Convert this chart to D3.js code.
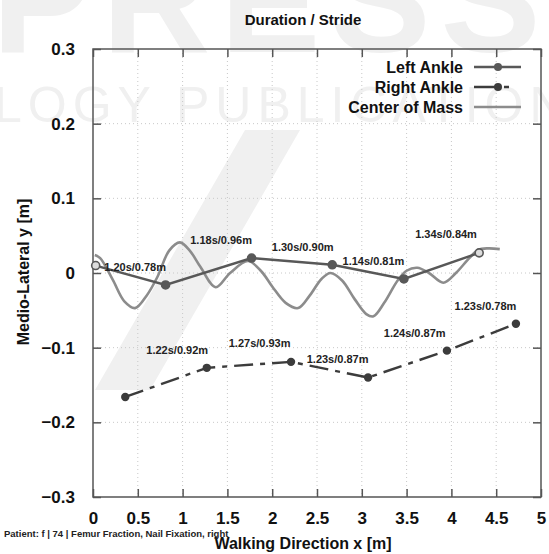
<!DOCTYPE html>
<meta charset="utf-8">
<style>
body { margin: 0; background: white; }
svg { font-family: "Liberation Sans", Arial, sans-serif; font-weight: bold; }
.tick text { font-size: 17px; font-weight: bold; fill: #111; }
.grid line { stroke: #c8c8c8; stroke-dasharray: 1,3; }
.lbl { font-size: 11px; fill: #222; text-anchor: middle; }
.leg { font-size: 16px; fill: #111; text-anchor: end; }
</style>
<svg></svg>
<script src="https://d3js.org/d3.v7.min.js"></script>
<script>

var width = 549,
    height = 554

// data (x = walking direction, y = medio-lateral)
var leftX = [0.03, 0.81, 1.77, 2.67, 3.47, 4.31]
var leftY = [0.010, -0.016, 0.020, 0.011, -0.008, 0.027]

var rightX = [0.36, 1.27, 2.21, 3.07, 3.95, 4.72]
var rightY = [-0.166, -0.127, -0.119, -0.140, -0.104, -0.068]

var comX = [0.02, 0.08, 0.22, 0.35, 0.47, 0.60, 0.72, 0.85, 0.97, 1.08, 1.20, 1.37, 1.53, 1.73, 1.88,
            2.00, 2.15, 2.29, 2.42, 2.55, 2.65, 2.78, 2.92, 3.05, 3.13, 3.25, 3.40, 3.50, 3.62, 3.75,
            3.91, 4.05, 4.20, 4.30, 4.41, 4.54]
var comY = [0.024, 0.020, -0.009, -0.038, -0.047, -0.030, -0.005, 0.030, 0.041, 0.030, 0.008, -0.019, 0.000, 0.016, 0.002,
            -0.018, -0.040, -0.047, -0.030, -0.008, 0.000, -0.010, -0.035, -0.055, -0.058, -0.040, -0.010, 0.003, 0.007, 0.000,
            -0.013, 0.000, 0.020, 0.031, 0.033, 0.032]

var leftLabels = ["1.20s/0.78m", "1.18s/0.96m", "1.30s/0.90m", "1.14s/0.81m", "1.34s/0.84m"]
var leftLabelX = [0.47, 1.43, 2.34, 3.13, 3.94]
var leftLabelY = [0.008, 0.044, 0.035, 0.016, 0.052]

var rightLabels = ["1.22s/0.92m", "1.27s/0.93m", "1.23s/0.87m", "1.24s/0.87m", "1.23s/0.78m"]
var rightLabelX = [0.94, 1.86, 2.73, 3.59, 4.38]
var rightLabelY = [-0.103, -0.094, -0.116, -0.080, -0.044]

var xTicks = [0, 0.5, 1, 1.5, 2, 2.5, 3, 3.5, 4, 4.5, 5]
var yTicks = [-0.3, -0.2, -0.1, 0, 0.1, 0.2, 0.3]

var legendNames = ["Left Ankle", "Right Ankle", "Center of Mass"]

var margin = {left: 93, right: 8, top: 49, bottom: 57}

var svg = d3.select("svg").attr("width", width).attr("height", height)

// faint publisher watermark in the background
var wm = svg.append("g").attr("fill", "#f0f0f0")
wm.append("text").attr("x", -8).attr("y", 52).style("font-size", "150px").style("letter-spacing", "10px").text("PRESS")
wm.append("text").attr("x", -6).attr("y", 122).style("font-size", "50px").style("font-weight", "normal")
    .style("letter-spacing", "6px").text("LOGY PUBLICATIONS")
wm.append("path").attr("d", "M245,130 L300,130 L150,390 L95,390 Z")

var x = d3.scaleLinear().domain([0, 5]).range([margin.left, width - margin.right])
var y = d3.scaleLinear().domain([-0.3, 0.3]).range([height - margin.bottom, margin.top])

var g = svg.append("g")

// grid
g.append("g").attr("class", "grid")
    .selectAll("line").data(xTicks.slice(1, -1)).enter().append("line")
    .attr("x1", function(d) { return x(d) }).attr("x2", function(d) { return x(d) })
    .attr("y1", y(0.3)).attr("y2", y(-0.3))
g.append("g").attr("class", "grid")
    .selectAll("line").data(yTicks.slice(1, -1)).enter().append("line")
    .attr("x1", x(0)).attr("x2", x(5))
    .attr("y1", function(d) { return y(d) }).attr("y2", function(d) { return y(d) })

var fmtY = function(d) { return d === 0 ? "0" : d3.format(".1f")(d) }

// axes with inward ticks
var xAxis = g.append("g").attr("transform", "translate(0," + y(-0.3) + ")")
    .call(d3.axisBottom(x).tickValues(xTicks).tickSize(-8).tickPadding(18).tickFormat(d3.format("")))
var xTop = g.append("g").attr("transform", "translate(0," + y(0.3) + ")")
    .call(d3.axisTop(x).tickValues(xTicks).tickSize(-8).tickFormat(""))
var yAxis = g.append("g").attr("transform", "translate(" + x(0) + ",0)")
    .call(d3.axisLeft(y).tickValues(yTicks).tickSize(-8).tickPadding(18).tickFormat(fmtY))
var yRight = g.append("g").attr("transform", "translate(" + x(5) + ",0)")
    .call(d3.axisRight(y).tickValues(yTicks).tickSize(-8).tickFormat(""))
g.selectAll(".domain").remove()
g.selectAll(".tick line").attr("stroke", "#555").attr("stroke-width", 1.5)
xAxis.selectAll("text").attr("dy", "0.55em")

g.append("rect")
    .attr("x", x(0)).attr("y", y(0.3))
    .attr("width", x(5) - x(0)).attr("height", y(-0.3) - y(0.3))
    .attr("fill", "none").attr("stroke", "#555").attr("stroke-width", 1.5)

// series
var leftData = leftX.map(function(d, i) { return [d, leftY[i]] })
var rightData = rightX.map(function(d, i) { return [d, rightY[i]] })
var comData = comX.map(function(d, i) { return [d, comY[i]] })

var line = d3.line().x(function(d) { return x(d[0]) }).y(function(d) { return y(d[1]) })
var smooth = d3.line().curve(d3.curveCatmullRom).x(function(d) { return x(d[0]) }).y(function(d) { return y(d[1]) })

g.append("path").datum(comData).attr("d", smooth)
    .attr("fill", "none").attr("stroke", "#8c8c8c").attr("stroke-width", 2.6)

g.append("path").datum(leftData).attr("d", line)
    .attr("fill", "none").attr("stroke", "#585858").attr("stroke-width", 2.4)
g.selectAll(".lp").data(leftData).enter().append("circle")
    .attr("cx", function(d) { return x(d[0]) }).attr("cy", function(d) { return y(d[1]) })
    .attr("r", 4)
    .attr("fill", function(d, i) { return i === 0 || i === leftData.length - 1 ? "#ddd" : "#585858" })
    .attr("stroke", "#585858").attr("stroke-width", 1.6)

g.append("path").datum(rightData).attr("d", line)
    .attr("fill", "none").attr("stroke", "#3c3c3c").attr("stroke-width", 2.4)
    .attr("stroke-dasharray", "19,7,5,7")
g.selectAll(".rp").data(rightData).enter().append("circle")
    .attr("cx", function(d) { return x(d[0]) }).attr("cy", function(d) { return y(d[1]) })
    .attr("r", 4.2).attr("fill", "#3c3c3c")

// stride annotations
g.selectAll(".ll").data(leftLabels).enter().append("text").attr("class", "lbl")
    .attr("x", function(d, i) { return x(leftLabelX[i]) })
    .attr("y", function(d, i) { return y(leftLabelY[i]) })
    .attr("dy", "0.35em").text(function(d) { return d })
g.selectAll(".rl").data(rightLabels).enter().append("text").attr("class", "lbl")
    .attr("x", function(d, i) { return x(rightLabelX[i]) })
    .attr("y", function(d, i) { return y(rightLabelY[i]) })
    .attr("dy", "0.35em").text(function(d) { return d })

// legend
var leg = g.append("g")
legendNames.forEach(function(name, i) {
    var ly = 67 + i * 20
    leg.append("text").attr("class", "leg").attr("x", 463).attr("y", ly).attr("dy", "0.35em").text(name)
})
leg.append("line").attr("x1", 474).attr("x2", 521).attr("y1", 67).attr("y2", 67)
    .attr("stroke", "#585858").attr("stroke-width", 2.4)
leg.append("circle").attr("cx", 498).attr("cy", 67).attr("r", 4).attr("fill", "#585858")
leg.append("line").attr("x1", 474).attr("x2", 521).attr("y1", 87).attr("y2", 87)
    .attr("stroke", "#3c3c3c").attr("stroke-width", 2.4).attr("stroke-dasharray", "23,7,5,20")
leg.append("circle").attr("cx", 498).attr("cy", 87).attr("r", 4).attr("fill", "#3c3c3c")
leg.append("line").attr("x1", 474).attr("x2", 521).attr("y1", 107).attr("y2", 107)
    .attr("stroke", "#8c8c8c").attr("stroke-width", 2.6)

// titles
svg.append("text").attr("x", 303).attr("y", 25).attr("text-anchor", "middle")
    .style("font-size", "15px").attr("fill", "#111").text("Duration / Stride")
svg.append("text").attr("transform", "translate(29,272) rotate(-90)").attr("text-anchor", "middle")
    .style("font-size", "16px").attr("fill", "#111").text("Medio-Lateral y [m]")
svg.append("text").attr("x", 303).attr("y", 549).attr("text-anchor", "middle")
    .style("font-size", "16px").attr("fill", "#111").text("Walking Direction x [m]")
svg.append("text").attr("x", 4).attr("y", 537)
    .style("font-size", "9.5px").attr("fill", "#222").text("Patient: f | 74 | Femur Fraction, Nail Fixation, right")

</script>
